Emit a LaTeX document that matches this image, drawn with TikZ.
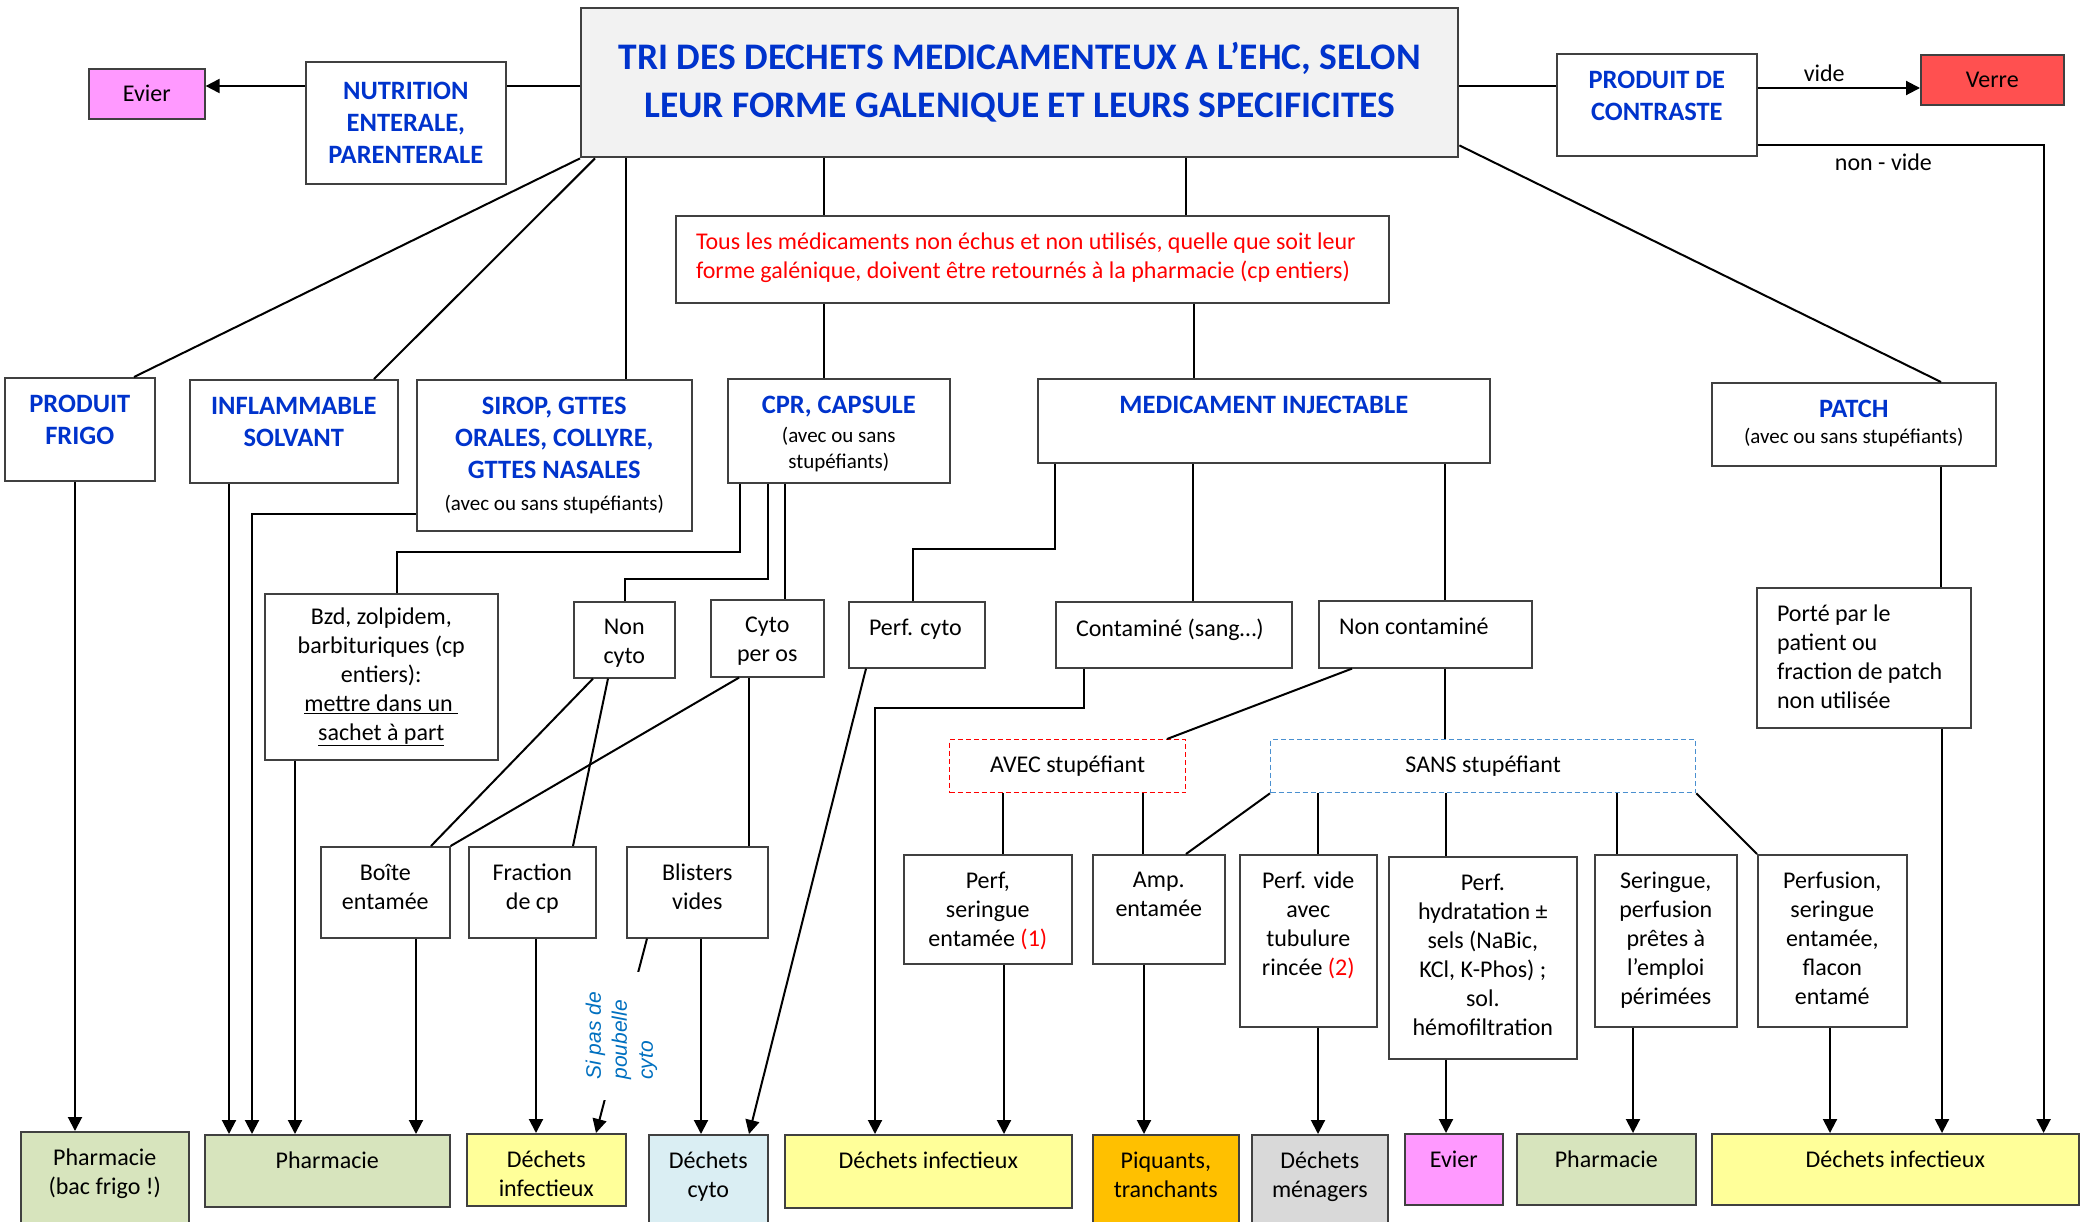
\documentclass[tikz,border=0pt]{standalone}
\usepackage{fontspec}
\setmainfont{Carlito}
\newfontfamily\arialfont{Liberation Sans}
\usepackage{tikz}
\usetikzlibrary{arrows.meta, calc}

\definecolor{hblue}{HTML}{0033CC}
\definecolor{titlefill}{HTML}{F2F2F2}
\definecolor{pinkbox}{HTML}{FF99FF}
\definecolor{verrered}{HTML}{FF5050}
\definecolor{greenbox}{HTML}{D7E4BD}
\definecolor{yellowbox}{HTML}{FFFF99}
\definecolor{bluebox}{HTML}{DAEEF3}
\definecolor{orangebox}{HTML}{FFC000}
\definecolor{graybox}{HTML}{D9D9D9}
\definecolor{dashblue}{HTML}{4A90D0}
\definecolor{poubblue}{HTML}{0070C0}

\newcommand{\bodyfont}{\fontsize{24}{29}\selectfont}
\newcommand{\headfont}{\fontsize{26.5}{32}\selectfont\bfseries}
\newcommand{\titlefont}{\fontsize{37.5}{48}\selectfont\bfseries}
\newcommand{\subfont}{\mdseries\fontsize{21}{26}\selectfont}
\newcommand{\poubfont}{\arialfont\itshape\fontsize{21}{26}\selectfont}

\tikzset{
  box/.style={draw=black!75, line width=1.6pt, anchor=north west, inner sep=0pt,
    font=\bodyfont, align=center},
  head/.style={font=\headfont, text=hblue},
  txttop/.style={label={[font=\bodyfont, align=center, inner sep=0pt, anchor=north,
    yshift=-17pt]north:{#1}}},
  headtop/.style={label={[font=\headfont, text=hblue, align=center, inner sep=0pt,
    anchor=north, yshift=-17pt]north:{#1}}},
  txtleft/.style={label={[font=\bodyfont, align=left, inner sep=0pt, anchor=north west,
    xshift=20pt, yshift=-17pt]north west:{#1}}},
  stup/.style={box, dash pattern=on 5pt off 3pt, line width=1.3pt},
  poub/.style={rotate=90, font=\poubfont, text=poubblue, align=left, fill=white,
    inner xsep=20pt, inner ysep=2pt}
}

\begin{document}
\begin{tikzpicture}[x=1pt, y=-1pt, line width=2pt, font=\bodyfont,
    >={Triangle[length=14pt, width=14pt]}]
  \useasboundingbox (0,0) rectangle (2080,1221);
  \clip (0,0) rectangle (2080,1221);

  \node[box, fill=pinkbox, minimum width=116pt, minimum height=50pt] (evierA) at (88,68) {Evier};
  \node[box, head, minimum width=200pt, minimum height=122pt] (nutri) at (305,61) {NUTRITION\\ENTERALE,\\PARENTERALE};
  \node[box, fill=titlefill, line width=2.4pt, font=\titlefont, text=hblue, minimum width=877pt, minimum height=149pt] (title) at (580,7)
    {TRI DES DECHETS MEDICAMENTEUX A L’EHC, SELON\\LEUR FORME GALENIQUE ET LEURS SPECIFICITES};
  \node[box, minimum width=200pt, minimum height=102pt, headtop={PRODUIT DE\\CONTRASTE}] (contraste) at (1556,53) {};
  \node[box, fill=verrered, minimum width=143pt, minimum height=50pt] (verre) at (1920,54) {Verre};
  \node[box, minimum width=713pt, minimum height=87pt,
    label={[font=\bodyfont, text=red, align=left, inner sep=0pt, anchor=north west, xshift=20pt, yshift=-17pt]north west:{Tous les médicaments non échus et non utilisés, quelle que soit leur\\forme galénique, doivent être retournés à la pharmacie (cp entiers)}}] (tous) at (675,215) {};

  \node[box, minimum width=150pt, minimum height=103pt, headtop={PRODUIT\\FRIGO}] (frigo) at (4,377) {};
  \node[box, minimum width=208pt, minimum height=103pt, headtop={INFLAMMABLE\\SOLVANT}] (inflam) at (189,379) {};
  \node[box, minimum width=275pt, minimum height=151pt,
    label={[font=\headfont, text=hblue, align=center, inner sep=0pt, anchor=north, yshift=-17pt]north:{SIROP, GTTES\\ORALES, COLLYRE,\\GTTES NASALES\\{\subfont\color{black}(avec ou sans stupéfiants)}}}] (sirop) at (416,379) {};
  \node[box, minimum width=222pt, minimum height=104pt,
    label={[font=\subfont, align=center, inner sep=0pt, anchor=north, yshift=-17pt]north:{{\headfont\color{hblue}CPR, CAPSULE}\\[3pt](avec ou sans\\stupéfiants)}}] (cpr) at (727,378) {};
  \node[box, minimum width=452pt, minimum height=84pt, headtop={MEDICAMENT INJECTABLE}] (medinj) at (1037,378) {};
  \node[box, minimum width=284pt, minimum height=83pt,
    label={[font=\subfont, align=center, inner sep=0pt, anchor=north, yshift=-17pt]north:{{\headfont\color{hblue}PATCH}\\(avec ou sans stupéfiants)}}] (patch) at (1711,382) {};

  \node[box, minimum width=233pt, minimum height=166pt] (bzd) at (264,593)
    {Bzd, zolpidem,\\barbituriques (cp\\entiers):\\\underline{mettre dans un\ }\\\underline{sachet à part}};
  \node[box, minimum width=101pt, minimum height=76pt, txttop={Non\\cyto}] (noncyto) at (573,601) {};
  \node[box, minimum width=113pt, minimum height=77pt, txttop={Cyto\\per os}] (cytoos) at (710,599) {};
  \node[box, minimum width=136pt, minimum height=66pt, txtleft={Perf. cyto}] (perfcyto) at (848,601) {};
  \node[box, minimum width=236pt, minimum height=66pt, txtleft={Contaminé (sang…)}] (contam) at (1055,601) {};
  \node[box, minimum width=213pt, minimum height=67pt, txtleft={Non contaminé}] (noncontam) at (1318,600) {};
  \node[box, minimum width=214pt, minimum height=140pt, txtleft={Porté par le\\patient ou\\fraction de patch\\non utilisée}] (porte) at (1756,587) {};
  \node[stup, draw=red, minimum width=236pt, minimum height=53pt] (avec) at (949,739) {AVEC stupéfiant};
  \node[stup, draw=dashblue, minimum width=425pt, minimum height=53pt] (sans) at (1270,739) {SANS stupéfiant};

  \node[box, minimum width=129pt, minimum height=91pt, txttop={Boîte\\entamée}] (boite) at (320,846) {};
  \node[box, minimum width=127pt, minimum height=91pt, txttop={Fraction\\de cp}] (fraction) at (468,846) {};
  \node[box, minimum width=141pt, minimum height=91pt, txttop={Blisters\\vides}] (blisters) at (626,846) {};
  \node[box, minimum width=168pt, minimum height=109pt, txttop={Perf,\\seringue\\entamée \textcolor{red}{(1)}}] (perfser) at (903,854) {};
  \node[box, minimum width=132pt, minimum height=109pt, txttop={Amp.\\entamée}] (amp) at (1092,854) {};
  \node[box, minimum width=137pt, minimum height=172pt, txttop={Perf. vide\\avec\\tubulure\\rincée \textcolor{red}{(2)}}] (perfvide) at (1239,854) {};
  \node[box, minimum width=188pt, minimum height=202pt, txttop={Perf.\\hydratation ±\\sels (NaBic,\\KCl, K-Phos) ;\\sol.\\hémofiltration}] (hydra) at (1388,856) {};
  \node[box, minimum width=142pt, minimum height=172pt, txttop={Seringue,\\perfusion\\prêtes à\\l’emploi\\périmées}] (seringue) at (1594,854) {};
  \node[box, minimum width=149pt, minimum height=172pt, txttop={Perfusion,\\seringue\\entamée,\\flacon\\entamé}] (perfusion) at (1757,854) {};

  \node[box, fill=greenbox, minimum width=168pt, minimum height=110pt, txttop={Pharmacie\\(bac frigo !)}] (pharmaF) at (20,1131) {};
  \node[box, fill=greenbox, minimum width=245pt, minimum height=72pt, txttop={Pharmacie}] (pharmaA) at (204,1134) {};
  \node[box, fill=yellowbox, minimum width=159pt, minimum height=72pt, txttop={Déchets\\infectieux}] (dinfA) at (466,1133) {};
  \node[box, fill=bluebox, minimum width=119pt, minimum height=107pt, txttop={Déchets\\cyto}] (dcyto) at (648,1134) {};
  \node[box, fill=yellowbox, minimum width=287pt, minimum height=73pt, txttop={Déchets infectieux}] (dinfB) at (784,1134) {};
  \node[box, fill=orangebox, minimum width=146pt, minimum height=107pt, txttop={Piquants,\\tranchants}] (piquants) at (1092,1134) {};
  \node[box, fill=graybox, minimum width=136pt, minimum height=107pt, txttop={Déchets\\ménagers}] (menagers) at (1251,1134) {};
  \node[box, fill=pinkbox, minimum width=98pt, minimum height=71pt, txttop={Evier}] (evierB) at (1404,1133) {};
  \node[box, fill=greenbox, minimum width=179pt, minimum height=71pt, txttop={Pharmacie}] (pharmaB) at (1516,1133) {};
  \node[box, fill=yellowbox, minimum width=367pt, minimum height=71pt, txttop={Déchets infectieux}] (dinfC) at (1711,1133) {};

  \coordinate (tw) at ([yshift=-79pt]title.north west);
  \coordinate (te) at ([yshift=-79pt]title.north east);
  \coordinate (cv) at ([yshift=-35pt]contraste.north east);
  \coordinate (cn) at ([yshift=12pt]contraste.south east);
  \coordinate (cd) at ([xshift=-36pt]dinfC.north east);
  \draw (tw) -- (tw -| nutri.east);
  \draw [->] (tw -| nutri.west) -- (tw -| evierA.east);
  \draw (te) -- (te -| contraste.west);
  \draw [->] (cv) -- node [above, inner sep=5pt, pos=0.41] (lvide) {vide} (cv -| verre.west);
  \draw [->] (cn) -- node [below, inner sep=8pt, pos=0.44] (lnonvide) {non - vide} (cn -| cd) -- (cd);
  \draw ([yshift=13pt]title.south east) -- ([xshift=230pt]patch.north west);
  \draw (title.south west) -- ([xshift=130pt]frigo.north west);
  \draw ([xshift=15pt]title.south west) -- ([xshift=185pt]inflam.north west);
  \draw ([xshift=46pt]title.south west) -- ([xshift=210pt]sirop.north west);
  \draw ([xshift=244pt]title.south west) -- ([xshift=149pt]tous.north west);
  \draw ([xshift=606pt]title.south west) -- ([xshift=511pt]tous.north west);
  \draw ([xshift=149pt]tous.south west) -- ([xshift=97pt]cpr.north west);
  \draw ([xshift=519pt]tous.south west) -- ([xshift=157pt]medinj.north west);

  \draw [->] ([xshift=71pt]frigo.south west) -- ([xshift=55pt]pharmaF.north west);
  \draw [->] ([xshift=40pt]inflam.south west) -- ([xshift=25pt]pharmaA.north west);
  \draw [->] ([yshift=-135pt]sirop.north west) -| ([xshift=48pt]pharmaA.north west);
  \draw ([xshift=13pt]cpr.south west) -- ++(0,68) -| ([xshift=133pt]bzd.north west);
  \draw [->] ([xshift=31pt]bzd.south west) -- ([xshift=91pt]pharmaA.north west);
  \draw ([xshift=41pt]cpr.south west) -- ++(0,95) -| ([xshift=52pt]noncyto.north west);
  \draw ([xshift=58pt]cpr.south west) -- ([xshift=75pt]cytoos.north west);
  \draw ([xshift=20pt]noncyto.south west) -- ([xshift=111pt]boite.north west);
  \draw ([xshift=35pt]noncyto.south west) -- ([xshift=105pt]fraction.north west);
  \draw ([xshift=29pt]cytoos.south west) -- (boite.north east);
  \draw ([xshift=39pt]cytoos.south west) -- ([xshift=123pt]blisters.north west);
  \draw [->] ([xshift=96pt]boite.south west) -- ([xshift=212pt]pharmaA.north west);
  \draw [->] ([xshift=68pt]fraction.south west) -- ([xshift=70pt]dinfA.north west);
  \draw [->] ([xshift=21pt]blisters.south west) -- node [poub] (lpoub) {Si pas de\\poubelle\\cyto} ([xshift=130pt]dinfA.north west);
  \draw [->] ([xshift=75pt]blisters.south west) -- ([xshift=53pt]dcyto.north west);
  \draw [->] ([xshift=18pt]perfcyto.south west) -- ([xshift=101pt]dcyto.north west);

  \draw ([xshift=18pt]medinj.south west) -- ++(0,85) -| ([xshift=65pt]perfcyto.north west);
  \draw ([xshift=156pt]medinj.south west) -- ([xshift=138pt]contam.north west);
  \draw ([xshift=408pt]medinj.south west) -- ([xshift=127pt]noncontam.north west);
  \draw [->] ([xshift=29pt]contam.south west) -- ++(0,39) -| ([xshift=91pt]dinfB.north west);
  \draw ([xshift=34pt]noncontam.south west) -- ([xshift=218pt]avec.north west);
  \draw ([xshift=127pt]noncontam.south west) -- ([xshift=175pt]sans.north west);
  \draw ([xshift=54pt]avec.south west) -- ([xshift=100pt]perfser.north west);
  \draw ([xshift=194pt]avec.south west) -- ([xshift=51pt]amp.north west);
  \draw (sans.south west) -- ([xshift=94pt]amp.north west);
  \draw ([xshift=48pt]sans.south west) -- ([xshift=79pt]perfvide.north west);
  \draw ([xshift=176pt]sans.south west) -- ([xshift=58pt]hydra.north west);
  \draw ([xshift=347pt]sans.south west) -- ([xshift=23pt]seringue.north west);
  \draw (sans.south east) -- (perfusion.north west);
  \draw [->] ([xshift=101pt]perfser.south west) -- ([xshift=220pt]dinfB.north west);
  \draw [->] ([xshift=52pt]amp.south west) -- ([xshift=52pt]piquants.north west);
  \draw [->] ([xshift=79pt]perfvide.south west) -- ([xshift=67pt]menagers.north west);
  \draw [->] ([xshift=58pt]hydra.south west) -- ([xshift=42pt]evierB.north west);
  \draw [->] ([xshift=39pt]seringue.south west) -- ([xshift=117pt]pharmaB.north west);
  \draw [->] ([xshift=73pt]perfusion.south west) -- ([xshift=119pt]dinfC.north west);
  \draw ([xshift=230pt]patch.south west) -- ([xshift=185pt]porte.north west);
  \draw [->] ([xshift=186pt]porte.south west) -- ([xshift=231pt]dinfC.north west);
\end{tikzpicture}
\end{document}
